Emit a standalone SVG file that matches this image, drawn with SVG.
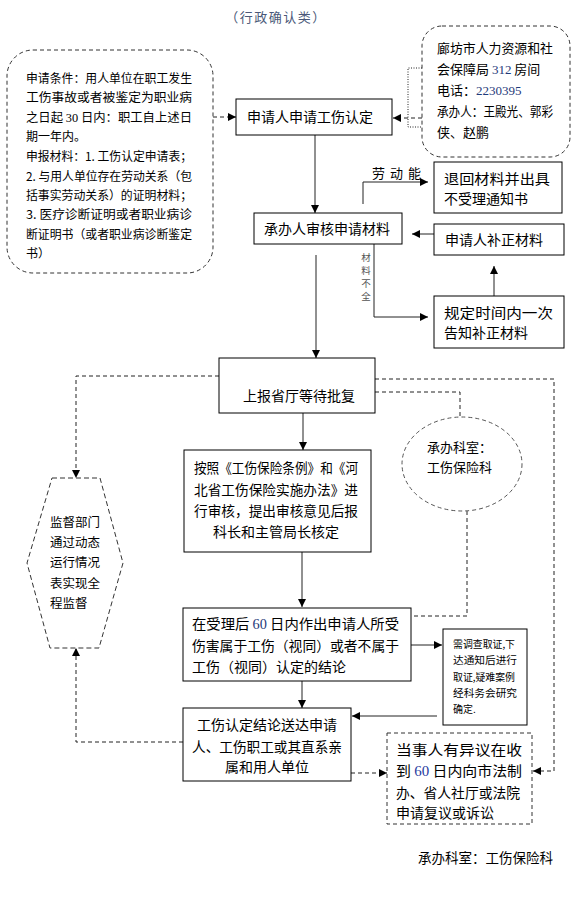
<svg xmlns="http://www.w3.org/2000/svg" width="575" height="900" viewBox="0 0 575 900">
<style>
text{font-family:"Noto Sans CJK SC","Liberation Sans",sans-serif;fill:#000;}
.t14{font-size:14px;}
.t13{font-size:13px;}
.t12{font-size:12px;}
.t10{font-size:10px;}
.num{font-family:"Liberation Serif","Noto Sans CJK SC",serif;fill:#1f3a7a;}
.box{fill:#fff;stroke:#000;stroke-width:1;}
.dbox{fill:#fff;stroke:#333;stroke-width:1;stroke-dasharray:4 3;}
.ln{fill:none;stroke:#222;stroke-width:1;}
.dl{fill:none;stroke:#222;stroke-width:1;stroke-dasharray:4 3;}
.dot{fill:none;stroke:#222;stroke-width:1;stroke-dasharray:1 1.5;}
</style>
<defs>
<marker id="ah" viewBox="0 0 10 10" refX="10" refY="5" markerWidth="9" markerHeight="8" markerUnits="userSpaceOnUse" orient="auto">
<path d="M0,0 L10,5 L0,10 Z" fill="#000"/>
</marker>
</defs>
<rect width="575" height="900" fill="#fff"/>
<text x="276" y="22" text-anchor="middle" style="font-size:13px;fill:#4a5878;letter-spacing:1.5px">（行政确认类）</text>

<g id="connectors">
<line class="dl" x1="213" y1="117" x2="236" y2="117" marker-end="url(#ah)"/>
<path class="dot" d="M422,68 H408 V127 H422"/>
<line class="dl" x1="422" y1="118" x2="393" y2="118" marker-end="url(#ah)"/>
<line class="ln" x1="315" y1="135" x2="315" y2="213" marker-end="url(#ah)"/>
<path class="ln" d="M363,204 V182 H428" marker-end="url(#ah)"/>
<line class="ln" x1="434" y1="234" x2="412" y2="234" marker-end="url(#ah)"/>
<line class="ln" x1="494" y1="296" x2="494" y2="266" marker-end="url(#ah)"/>
<path class="ln" d="M374,244 V317 H428" marker-end="url(#ah)"/>
<line class="ln" x1="316" y1="255" x2="316" y2="358" marker-end="url(#ah)"/>
<path class="dl" d="M219,376 H76 V478" marker-end="url(#ah)"/>
<path class="dl" d="M375,379 H554 V771 H533" marker-end="url(#ah)"/>
<path class="dl" d="M375,392 H460 V417"/>
<line class="ln" x1="303" y1="413" x2="303" y2="450" marker-end="url(#ah)"/>
<path class="dl" d="M467,511 V616 H411"/>
<line class="ln" x1="302" y1="552" x2="302" y2="607" marker-end="url(#ah)"/>
<line class="ln" x1="411" y1="645" x2="442" y2="645" marker-end="url(#ah)"/>
<line class="ln" x1="437" y1="716" x2="352" y2="716" marker-end="url(#ah)"/>
<line class="ln" x1="302" y1="681" x2="302" y2="708" marker-end="url(#ah)"/>
<path class="dl" d="M183,742 H76 V648" marker-end="url(#ah)"/>
<line class="dl" x1="351" y1="773" x2="387" y2="773" marker-end="url(#ah)"/>
</g>

<g id="conditions">
<rect class="dbox" x="7" y="50" width="206" height="223" rx="26"/>
<g class="t12">
<text x="26" y="83" textLength="166" lengthAdjust="spacingAndGlyphs">申请条件：用人单位在职工发生</text>
<text x="26" y="102" textLength="166" lengthAdjust="spacingAndGlyphs">工伤事故或者被鉴定为职业病</text>
<text x="26" y="122" textLength="166" lengthAdjust="spacingAndGlyphs">之日起 <tspan class="num" style="fill:#000">30</tspan> 日内：职工自上述日</text>
<text x="26" y="141">期一年内。</text>
<text x="26" y="161" textLength="166" lengthAdjust="spacingAndGlyphs">申报材料：1. 工伤认定申请表；</text>
<text x="26" y="181" textLength="166" lengthAdjust="spacingAndGlyphs">2. 与用人单位存在劳动关系（包</text>
<text x="26" y="200" textLength="166" lengthAdjust="spacingAndGlyphs">括事实劳动关系）的证明材料；</text>
<text x="26" y="219" textLength="166" lengthAdjust="spacingAndGlyphs">3. 医疗诊断证明或者职业病诊</text>
<text x="26" y="239" textLength="166" lengthAdjust="spacingAndGlyphs">断证明书（或者职业病诊断鉴定</text>
<text x="26" y="258">书）</text>
</g>
</g>

<g id="contact">
<rect class="dbox" x="422" y="26" width="148" height="131" rx="20"/>
<g class="t13">
<text x="437" y="53" textLength="116" lengthAdjust="spacingAndGlyphs">廊坊市人力资源和社</text>
<text x="437" y="74">会保障局 <tspan class="num">312</tspan> 房间</text>
<text x="437" y="95">电话：<tspan class="num">2230395</tspan></text>
<text x="437" y="116" textLength="116" lengthAdjust="spacingAndGlyphs">承办人：王殿光、郭彩</text>
<text x="437" y="137">侠、赵鹏</text>
</g>
</g>

<g id="apply">
<rect class="box" x="236" y="99" width="156" height="36"/>
<text x="310" y="122" class="t14" text-anchor="middle">申请人申请工伤认定</text>
</g>

<g id="review">
<rect class="box" x="254" y="213" width="148" height="31"/>
<text x="327" y="234" class="t14" text-anchor="middle">承办人审核申请材料</text>
</g>

<g id="label-labor">
<text x="372" y="178" class="t13" style="letter-spacing:5px">劳动能</text>
</g>

<g id="label-incomplete" style="font-size:9.5px">
<text x="366" y="261" text-anchor="middle" style="fill:#555">材</text>
<text x="366" y="274" text-anchor="middle" style="fill:#555">料</text>
<text x="366" y="287" text-anchor="middle" style="fill:#555">不</text>
<text x="366" y="300" text-anchor="middle" style="fill:#555">全</text>
</g>

<g id="reject">
<rect class="box" x="434" y="162" width="128" height="51"/>
<text x="444" y="184" class="t14" textLength="106" lengthAdjust="spacingAndGlyphs">退回材料并出具</text>
<text x="444" y="204" class="t14">不受理通知书</text>
</g>

<g id="supplement">
<rect class="box" x="434" y="224" width="130" height="31"/>
<text x="445" y="245" class="t14">申请人补正材料</text>
</g>

<g id="notify">
<rect class="box" x="434" y="296" width="130" height="52"/>
<text x="444" y="318" class="t14" textLength="109" lengthAdjust="spacingAndGlyphs">规定时间内一次</text>
<text x="444" y="338" class="t14">告知补正材料</text>
</g>

<g id="report">
<rect class="box" x="219" y="358" width="156" height="55"/>
<text x="299" y="401" class="t14" text-anchor="middle">上报省厅等待批复</text>
</g>

<g id="office-circle">
<ellipse cx="462" cy="464" rx="60" ry="47" fill="#fff" stroke="#555" stroke-width="1" stroke-dasharray="4 3"/>
<text x="427" y="452" class="t13">承办科室：</text>
<text x="427" y="472" class="t13">工伤保险科</text>
</g>

<g id="audit">
<rect class="box" x="184" y="450" width="187" height="102"/>
<text x="194" y="473" class="t14" textLength="164" lengthAdjust="spacingAndGlyphs">按照《工伤保险条例》和《河</text>
<text x="194" y="495" class="t14" textLength="164" lengthAdjust="spacingAndGlyphs">北省工伤保险实施办法》进</text>
<text x="194" y="516" class="t14" textLength="164" lengthAdjust="spacingAndGlyphs">行审核，提出审核意见后报</text>
<text x="276" y="537" class="t14" text-anchor="middle">科长和主管局长核定</text>
</g>

<g id="supervise">
<polygon points="52,478 100,478 123,563 99,648 50,648 27,563" fill="#fff" stroke="#333" stroke-width="1" stroke-dasharray="5 3"/>
<g style="font-size:12.5px">
<text x="50" y="527">监督部门</text>
<text x="50" y="547">通过动态</text>
<text x="50" y="567">运行情况</text>
<text x="50" y="588">表实现全</text>
<text x="50" y="608">程监督</text>
</g>
</g>

<g id="decision">
<rect class="box" x="183" y="608" width="228" height="73"/>
<text x="192" y="629" class="t14" textLength="207" lengthAdjust="spacingAndGlyphs">在受理后 <tspan class="num">60</tspan> 日内作出申请人所受</text>
<text x="192" y="651" class="t14" textLength="207" lengthAdjust="spacingAndGlyphs">伤害属于工伤（视同）或者不属于</text>
<text x="192" y="672" class="t14">工伤（视同）认定的结论</text>
</g>

<g id="investigate">
<rect class="box" x="443" y="629" width="84" height="96"/>
<g class="t10" style="fill:#222">
<text x="453" y="648" textLength="62" lengthAdjust="spacingAndGlyphs">需调查取证,下</text>
<text x="453" y="664" textLength="64" lengthAdjust="spacingAndGlyphs">达通知后进行</text>
<text x="453" y="681" textLength="62" lengthAdjust="spacingAndGlyphs">取证,疑难案例</text>
<text x="453" y="697" textLength="64" lengthAdjust="spacingAndGlyphs">经科务会研究</text>
<text x="453" y="713">确定.</text>
</g>
</g>

<g id="deliver">
<rect class="box" x="183" y="708" width="168" height="73"/>
<text x="267" y="730" class="t14" text-anchor="middle">工伤认定结论送达申请</text>
<text x="267" y="752" class="t14" text-anchor="middle" textLength="150" lengthAdjust="spacingAndGlyphs">人、工伤职工或其直系亲</text>
<text x="267" y="772" class="t14" text-anchor="middle">属和用人单位</text>
</g>

<g id="appeal">
<rect class="dbox" x="387" y="733" width="145" height="91"/>
<text x="396" y="755" class="t14" textLength="126" lengthAdjust="spacingAndGlyphs">当事人有异议在收</text>
<text x="396" y="776" class="t14" textLength="126" lengthAdjust="spacingAndGlyphs">到 <tspan class="num" style="fill:#1f3aa0">60</tspan> 日内向市法制</text>
<text x="396" y="798" class="t14" textLength="124" lengthAdjust="spacingAndGlyphs">办、省人社厅或法院</text>
<text x="396" y="818" class="t14">申请复议或诉讼</text>
</g>

<g id="footer">
<text x="418" y="863" style="font-size:13.5px">承办科室：工伤保险科</text>
</g>
</svg>
